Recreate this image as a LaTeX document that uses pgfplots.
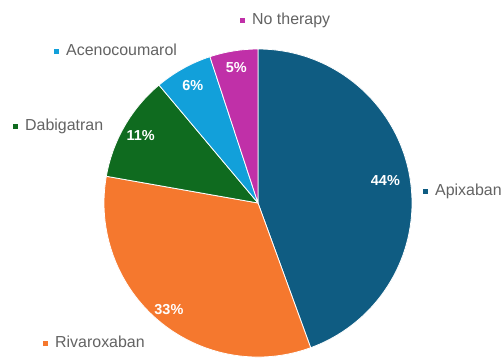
\documentclass[border=0pt]{standalone}
\usepackage{pgfplots}
\pgfplotsset{compat=1.18}
\usepackage{pgfplotstable}
\usepackage{fontspec}
\setmainfont{Liberation Sans}
\definecolor{cApix}{HTML}{0F5C82}
\definecolor{cRiva}{HTML}{F5782E}
\definecolor{cDabi}{HTML}{0F6B1F}
\definecolor{cAceno}{HTML}{12A0DA}
\definecolor{cNone}{HTML}{C030A8}
\definecolor{labelgray}{HTML}{636363}
\tikzset{
  pct/.style={text=white, inner sep=0pt, font=\bfseries\fontsize{14.5}{16}\selectfont},
  lbl/.style={anchor=west, inner sep=0pt, text=labelgray, font=\fontsize{16}{18}\selectfont},
}
% name, value (%), colour, label radius factor, outer label x, y (px offsets from centre)
\pgfplotstableread[col sep=comma]{
name,value,col,lr,ox,oy
Apixaban,44,cApix,0.84,165,12
Rivaroxaban,33,cRiva,0.90,-215,-139
Dabigatran,11,cDabi,0.88,-245,77
Acenocoumarol,6,cAceno,0.87,-204,153
No therapy,5,cNone,0.89,-18,183
}\piedata
\begin{document}
\begin{tikzpicture}
\useasboundingbox[fill=white] (0,0) rectangle (504bp,360bp);
\begin{axis}[x=1bp, y=1bp, xmin=-258, xmax=246, ymin=-157, ymax=203,
  hide axis, scale only axis, clip=false, anchor=south west, at={(0,0)}]
\def\startang{90}
\pgfplotsforeachungrouped \i in {0,...,4}{%
  \pgfplotstablegetelem{\i}{value}\of\piedata \let\val\pgfplotsretval
  \pgfplotstablegetelem{\i}{col}\of\piedata \let\col\pgfplotsretval
  \pgfplotstablegetelem{\i}{name}\of\piedata \let\nm\pgfplotsretval
  \pgfplotstablegetelem{\i}{lr}\of\piedata \let\lr\pgfplotsretval
  \pgfplotstablegetelem{\i}{ox}\of\piedata \let\ox\pgfplotsretval
  \pgfplotstablegetelem{\i}{oy}\of\piedata \let\oy\pgfplotsretval
  \pgfmathsetmacro\endang{\startang-\val/99*360}
  \pgfmathsetmacro\midang{(\startang+\endang)/2}
  \pgfmathsetmacro\sx{154*cos(\startang)}
  \pgfmathsetmacro\sy{154*sin(\startang)}
  \pgfmathsetmacro\lx{154*\lr*cos(\midang)}
  \pgfmathsetmacro\ly{154*\lr*sin(\midang)}
  \edef\temp{%
    \noexpand\fill[fill=\col, draw=white, line width=0.8bp, line join=round]
      (axis cs:0,0) -- (axis cs:\sx,\sy)
      arc[start angle=\startang, end angle=\endang, radius=154bp] -- cycle;
    \noexpand\node[pct] at (axis cs:\lx,\ly) {\val\noexpand\%};
    \noexpand\node[lbl] at (axis cs:\ox,\oy)
      {\noexpand\textcolor{\col}{\noexpand\raisebox{1.5bp}{\noexpand\rule{5bp}{5bp}}}\noexpand\hspace{7bp}\nm};
  }\temp
  \global\let\startang\endang
}
\end{axis}
\end{tikzpicture}
\end{document}
